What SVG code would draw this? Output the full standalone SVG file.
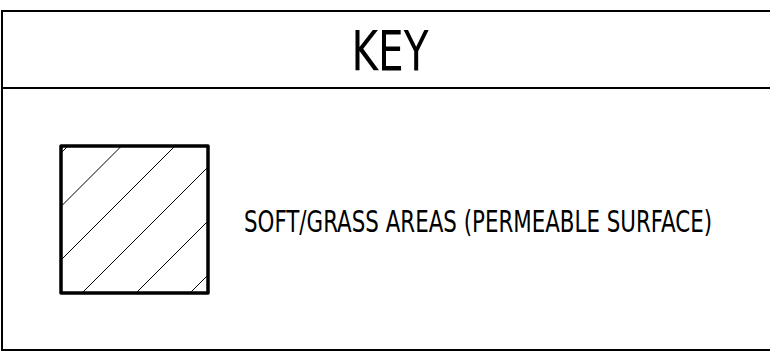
<svg xmlns="http://www.w3.org/2000/svg" width="770" height="352" viewBox="0 0 770 352">
<style>
.frame{fill:none;stroke:#000;stroke-width:2}
.box{fill:none;stroke:#000;stroke-width:3.5;stroke-linejoin:round}
.hatch{stroke:#000;stroke-width:1;fill:none}
.t{font-family:"DejaVu Sans Condensed","Liberation Sans",sans-serif;fill:#000}
</style>
<defs>
<clipPath id="sq"><rect x="61" y="146" width="147" height="147"/></clipPath>
</defs>
<rect width="770" height="352" fill="#fff"/>
<g id="frame">
<rect class="frame" x="2" y="11" width="780" height="339"/>
<line class="frame" x1="2" y1="88" x2="770" y2="88"/>
</g>
<g id="title">
<text class="t" x="390" y="70" font-size="56" text-anchor="middle" textLength="77" lengthAdjust="spacingAndGlyphs">KEY</text>
</g>
<g id="legend-grass">
<g clip-path="url(#sq)" class="hatch">
<line x1="214" y1="0" x2="0" y2="214"/>
<line x1="267.5" y1="0" x2="0" y2="267.5"/>
<line x1="321" y1="0" x2="0" y2="321"/>
<line x1="375" y1="0" x2="0" y2="375"/>
<line x1="429" y1="0" x2="0" y2="429"/>
<line x1="483" y1="0" x2="0" y2="483"/>
</g>
<rect class="box" x="61" y="146" width="147" height="147"/>
<text class="t" x="244" y="232" font-size="30" textLength="468" lengthAdjust="spacingAndGlyphs">SOFT/GRASS AREAS (PERMEABLE SURFACE)</text>
</g>
</svg>
